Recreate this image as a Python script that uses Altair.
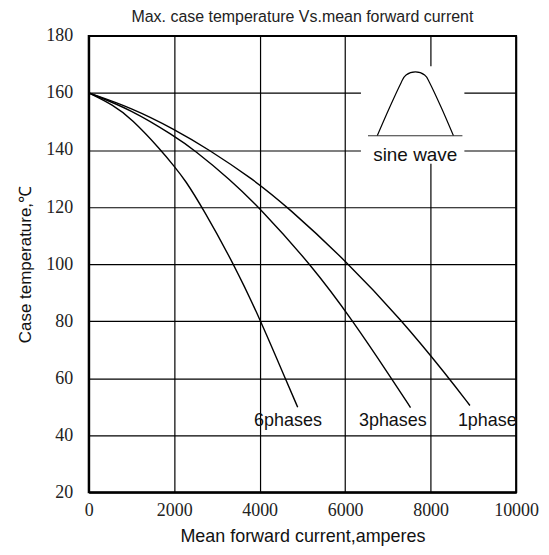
import altair as alt
import pandas as pd

# Curves: mean forward current (A) vs max case temperature (°C)
x6 = [0, 570, 1000, 1690, 2000, 2255, 2660, 3400, 4015, 4610, 4890]
y6 = [160, 155.8, 151, 140, 134.3, 129.5, 119.8, 99.9, 80.5, 59.5, 49.8]
x3 = [0, 1000, 2000, 2465, 3320, 3980, 5220, 6186, 7080, 7530]
y3 = [160, 154.1, 144.9, 140.1, 129.5, 120, 99.5, 80, 60, 49.7]
x1 = [0, 1000, 2000, 2775, 3860, 4640, 6030, 7325, 8395, 8920]
y1 = [160, 154.8, 147.3, 140.5, 129.6, 120.2, 101, 80.3, 60.7, 50.4]

# Curve labels
label_names = ["6phases", "3phases", "1phase"]
label_x = [4663, 7116, 9326]
label_y = [43.2, 43.2, 43.2]

# Inset: sine-wave symbol
wave_x = [6751, 7040, 7310, 7426, 7644, 7860, 7977, 8249, 8535]
wave_y = [145, 154.9, 163.6, 166.3, 167.4, 166.3, 163.6, 154.9, 145]
wave_base_x = [6535, 8744]
wave_base_y = 145
inset_box_x = [6370, 8790]
inset_box_y = [135.2, 169.4]
inset_label = "sine wave"
inset_label_pos = [7640, 136.3]

x_ticks = [0, 2000, 4000, 6000, 8000, 10000]
y_ticks = [20, 40, 60, 80, 100, 120, 140, 160, 180]

curves = pd.DataFrame(
    [{"x": a, "y": b, "s": "6phases"} for a, b in zip(x6, y6)]
    + [{"x": a, "y": b, "s": "3phases"} for a, b in zip(x3, y3)]
    + [{"x": a, "y": b, "s": "1phase"} for a, b in zip(x1, y1)]
)
labels = pd.DataFrame({"x": label_x, "y": label_y, "t": label_names})
wave = pd.DataFrame({"x": wave_x, "y": wave_y})
base = pd.DataFrame({"x": [wave_base_x[0]], "x2": [wave_base_x[1]], "y": [wave_base_y]})
box = pd.DataFrame({"x": [inset_box_x[0]], "x2": [inset_box_x[1]],
                    "y": [inset_box_y[0]], "y2": [inset_box_y[1]]})
inset_txt = pd.DataFrame({"x": [inset_label_pos[0]], "y": [inset_label_pos[1]], "t": [inset_label]})

xs = alt.Scale(domain=[0, 10000], nice=False)
ys = alt.Scale(domain=[20, 180], nice=False, zero=False)

xax = alt.Axis(values=x_ticks, format="d", title="Mean forward  current,amperes", grid=True,
               labelFont="Liberation Serif", labelFontSize=18, labelColor="#222",
               labelPadding=9, tickSize=0, titleFont="Liberation Sans",
               titleFontSize=18, titleFontWeight="normal", titleColor="#111",
               titlePadding=8, labelFlush=False,
               gridColor="black", gridWidth=1.2, gridOpacity=1,
               domainColor="black", domainWidth=2)
yax = alt.Axis(values=y_ticks, format="d", title="Case temperature,℃", grid=True,
               labelFont="Liberation Serif", labelFontSize=18, labelColor="#222",
               labelPadding=16, tickSize=0, titleFont="Liberation Sans",
               titleFontSize=17, titleFontWeight="normal", titleColor="#111",
               titlePadding=11, labelFlush=False,
               gridColor="black", gridWidth=1.2, gridOpacity=1,
               domainColor="black", domainWidth=2)

lines = alt.Chart(curves).mark_line(color="black", strokeWidth=1.4, interpolate="basis").encode(
    x=alt.X("x:Q", scale=xs, axis=xax),
    y=alt.Y("y:Q", scale=ys, axis=yax),
    detail="s:N",
)

boxes = alt.Chart(box).mark_rect(color="white").encode(
    x=alt.X("x:Q", scale=xs), x2="x2", y=alt.Y("y:Q", scale=ys), y2="y2")

wave_line = alt.Chart(wave).mark_line(color="black", strokeWidth=1.2, interpolate="cardinal").encode(
    x=alt.X("x:Q", scale=xs), y=alt.Y("y:Q", scale=ys))

base_rule = alt.Chart(base).mark_rule(color="#333", strokeWidth=1.2).encode(
    x=alt.X("x:Q", scale=xs), x2="x2", y=alt.Y("y:Q", scale=ys))

inset_text = alt.Chart(inset_txt).mark_text(font="Liberation Sans", fontSize=19, color="#111",
                                            baseline="alphabetic").encode(
    x=alt.X("x:Q", scale=xs), y=alt.Y("y:Q", scale=ys), text="t:N")

label_text = alt.Chart(labels).mark_text(font="Liberation Sans", fontSize=18, color="#111",
                                         baseline="alphabetic").encode(
    x=alt.X("x:Q", scale=xs), y=alt.Y("y:Q", scale=ys), text="t:N")

chart = alt.layer(lines, boxes, wave_line, base_rule, inset_text, label_text).properties(
    width=429, height=458,
    background="white",
    title=alt.TitleParams("Max. case temperature Vs.mean forward current",
                          font="Liberation Sans", fontSize=16, fontWeight="normal",
                          color="#222", anchor="middle", offset=2),
    padding={"left": 81, "top": 27, "right": 25, "bottom": 62},
    autosize=alt.AutoSizeParams(type="none"),
).configure_view(stroke="black", strokeWidth=2)

chart.save("out.html", embed_options={"renderer": "svg", "actions": False})
